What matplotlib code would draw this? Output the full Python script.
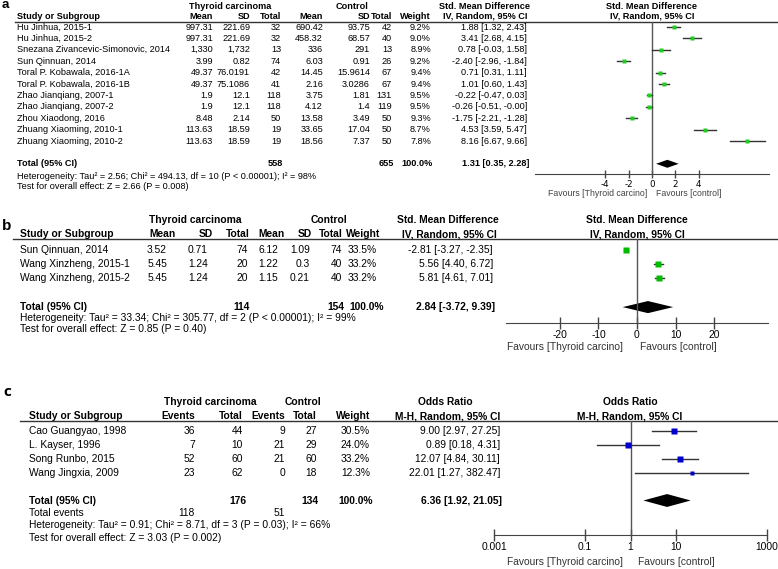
import numpy as np
import matplotlib.pyplot as plt
from matplotlib import font_manager

plt.rcParams['axes.unicode_minus'] = False

# ---- data: panel a (continuous, SMD) ----
names_a = ["Hu Jinhua, 2015-1", "Hu Jinhua, 2015-2", "Snezana Zivancevic-Simonovic, 2014",
           "Sun Qinnuan, 2014", "Toral P. Kobawala, 2016-1A", "Toral P. Kobawala, 2016-1B",
           "Zhao Jianqiang, 2007-1", "Zhao Jianqiang, 2007-2", "Zhou Xiaodong, 2016",
           "Zhuang Xiaoming, 2010-1", "Zhuang Xiaoming, 2010-2"]
exp_mean_a = ["997.31", "997.31", "1,330", "3.99", "49.37", "49.37", "1.9", "1.9", "8.48", "113.63", "113.63"]
exp_sd_a = ["221.69", "221.69", "1,732", "0.82", "76.0191", "75.1086", "12.1", "12.1", "2.14", "18.59", "18.59"]
exp_n_a = [32, 32, 13, 74, 42, 41, 118, 118, 50, 19, 19]
ctl_mean_a = ["690.42", "458.32", "336", "6.03", "14.45", "2.16", "3.75", "4.12", "13.58", "33.65", "18.56"]
ctl_sd_a = ["93.75", "68.57", "291", "0.91", "15.9614", "3.0286", "1.81", "1.4", "3.49", "17.04", "7.37"]
ctl_n_a = [42, 40, 13, 26, 67, 67, 131, 119, 50, 50, 50]
weight_a = [9.2, 9.0, 8.9, 9.2, 9.4, 9.4, 9.5, 9.5, 9.3, 8.7, 7.8]
est_a = [1.88, 3.41, 0.78, -2.40, 0.71, 1.01, -0.22, -0.26, -1.75, 4.53, 8.16]
lo_a = [1.32, 2.68, -0.03, -2.96, 0.31, 0.60, -0.47, -0.51, -2.21, 3.59, 6.67]
hi_a = [2.43, 4.15, 1.58, -1.84, 1.11, 1.43, 0.03, -0.0, -1.28, 5.47, 9.66]
total_a = [558, 655, 1.31, 0.35, 2.28]
het_a = "Heterogeneity: Tau² = 2.56; Chi² = 494.13, df = 10 (P < 0.00001); I² = 98%"
test_a = "Test for overall effect: Z = 2.66 (P = 0.008)"

# ---- data: panel b ----
names_b = ["Sun Qinnuan, 2014", "Wang Xinzheng, 2015-1", "Wang Xinzheng, 2015-2"]
exp_mean_b = ["3.52", "5.45", "5.45"]
exp_sd_b = ["0.71", "1.24", "1.24"]
exp_n_b = [74, 20, 20]
ctl_mean_b = ["6.12", "1.22", "1.15"]
ctl_sd_b = ["1.09", "0.3", "0.21"]
ctl_n_b = [74, 40, 40]
weight_b = [33.5, 33.2, 33.2]
est_b = [-2.81, 5.56, 5.81]
lo_b = [-3.27, 4.40, 4.61]
hi_b = [-2.35, 6.72, 7.01]
total_b = [114, 154, 2.84, -3.72, 9.39]
het_b = "Heterogeneity: Tau² = 33.34; Chi² = 305.77, df = 2 (P < 0.00001); I² = 99%"
test_b = "Test for overall effect: Z = 0.85 (P = 0.40)"

# ---- data: panel c (dichotomous, OR) ----
names_c = ["Cao Guangyao, 1998", "L. Kayser, 1996", "Song Runbo, 2015", "Wang Jingxia, 2009"]
exp_ev_c = [36, 7, 52, 23]
exp_n_c = [44, 10, 60, 62]
ctl_ev_c = [9, 21, 21, 0]
ctl_n_c = [27, 29, 60, 18]
weight_c = [30.5, 24.0, 33.2, 12.3]
est_c = [9.00, 0.89, 12.07, 22.01]
lo_c = [2.97, 0.18, 4.84, 1.27]
hi_c = [27.25, 4.31, 30.11, 382.47]
total_c = [176, 134, 6.36, 1.92, 21.05]
events_c = [118, 51]
het_c = "Heterogeneity: Tau² = 0.91; Chi² = 8.71, df = 3 (P = 0.03); I² = 66%"
test_c = "Test for overall effect: Z = 3.03 (P = 0.002)"

W, H = 778, 569
fig = plt.figure(figsize=(W / 100, H / 100), dpi=100)

installed = {f.name for f in font_manager.fontManager.ttflist}
if 'Liberation Sans Narrow' in installed:
    narrow, fs2 = 'Liberation Sans Narrow', 9.0
else:
    narrow, fs2 = 'Liberation Sans', 7.4
fs1 = 6.6

# canvas in pixel coordinates for all the table text
cv = fig.add_axes([0, 0, 1, 1])
cv.set_xlim(0, W)
cv.set_ylim(H, 0)
cv.axis('off')


def txt(x, y, s, ha='left', size=fs1, bold=False, fam='Liberation Sans', color='black'):
    cv.text(x, y, s, ha=ha, va='center', fontsize=size, family=fam,
            fontweight='bold' if bold else 'normal', color=color)


def ci(e, l, h):
    return f"{e:.2f} [{l:.2f}, {h:.2f}]"


def forest_axes(x0, x1, ytop, ybot, y0, dy, log=False):
    ax = fig.add_axes([x0 / W, 1 - ybot / H, (x1 - x0) / W, (ybot - ytop) / H])
    if log:
        ax.set_xscale('log')
    ax.set_ylim((ybot - y0) / dy, (ytop - y0) / dy)
    ax.patch.set_alpha(0)
    for s in ['top', 'right', 'left']:
        ax.spines[s].set_visible(False)
    ax.spines['bottom'].set_color('#444444')
    ax.tick_params(left=False, labelleft=False, direction='inout', length=7,
                   width=1, color='#444444', pad=1)
    ax.axvline(1 if log else 0, color='#555555', lw=1)
    return ax


def marker_px(w):
    return 1.1 * np.sqrt(w) * 0.72

# ================= panel a =================
ya0, dya = 27, 11.4
txt(2, 5, "a", size=9.5, bold=True)
txt(230, 6, "Thyroid carcinoma", ha='center', bold=True)
txt(352, 6, "Control", ha='center', bold=True)
txt(485, 6, "Std. Mean Difference", ha='center', bold=True)
txt(652, 6, "Std. Mean Difference", ha='center', bold=True)
txt(17, 16, "Study or Subgroup", bold=True)
cols_a = [213, 250, 281, 323, 370, 392, 431, 527]
for x, s in zip(cols_a, ["Mean", "SD", "Total", "Mean", "SD", "Total", "Weight"]):
    txt(x, 16, s, ha='right', bold=True)
txt(485, 16, "IV, Random, 95% CI", ha='center', bold=True)
txt(652, 16, "IV, Random, 95% CI", ha='center', bold=True)
cv.plot([15, W], [22, 22], color='#333333', lw=1)
for i in range(len(names_a)):
    y = ya0 + dya * i
    txt(17, y, names_a[i])
    row = [exp_mean_a[i], exp_sd_a[i], exp_n_a[i], ctl_mean_a[i], ctl_sd_a[i], ctl_n_a[i],
           f"{weight_a[i]:.1f}%", ci(est_a[i], lo_a[i], hi_a[i])]
    for x, s in zip(cols_a, row):
        txt(x, y, str(s), ha='right')
yt = ya0 + dya * 12
txt(17, yt, "Total (95% CI)", bold=True)
txt(283, yt, str(total_a[0]), ha='right', bold=True)
txt(394, yt, str(total_a[1]), ha='right', bold=True)
txt(433, yt, "100.0%", ha='right', bold=True)
txt(529, yt, ci(*total_a[2:]), ha='right', bold=True)
txt(17, 176, het_a)
txt(17, 186, test_a)

axa = forest_axes(535, 769, 22, 174, ya0, dya)
axa.set_xlim(-10, 10)
for i in range(len(est_a)):
    axa.plot([lo_a[i], hi_a[i]], [i, i], color='#333333', lw=1)
    axa.plot(est_a[i], i, 's', color='#22cc22', ms=marker_px(weight_a[i]), mec='none')
e, l, h = total_a[2:]
axa.fill([l, e, h, e], [12, 11.65, 12, 12.35], color='black', lw=0)
axa.set_xticks([-4, -2, 0, 2, 4])
axa.tick_params(labelsize=6.3, length=6)
txt(647, 193, "Favours [Thyroid carcino]", ha='right', size=6.3, color='#444444')
txt(656, 193, "Favours [control]", ha='left', size=6.3, color='#444444')

# ================= panel b =================
yb0, dyb = 249.5, 14.4
txt(2, 226, "b", size=11, bold=True)
txt(195, 220, "Thyroid carcinoma", ha='center', size=fs2, bold=True, fam=narrow)
txt(329, 220, "Control", ha='center', size=fs2, bold=True, fam=narrow)
txt(448, 220, "Std. Mean Difference", ha='center', size=fs2, bold=True, fam=narrow)
txt(637, 220, "Std. Mean Difference", ha='center', size=fs2, bold=True, fam=narrow)
txt(20, 234, "Study or Subgroup", size=fs2, bold=True, fam=narrow)
cols_b = [167, 208, 248, 278, 310, 342, 377, 493]
hdr_b = [176, 213, 250, 285, 312, 343, 380]
for x, s in zip(hdr_b, ["Mean", "SD", "Total", "Mean", "SD", "Total", "Weight"]):
    txt(x, 234, s, ha='right', size=fs2, bold=True, fam=narrow)
txt(449, 234, "IV, Random, 95% CI", ha='center', size=fs2, bold=True, fam=narrow)
txt(637, 234, "IV, Random, 95% CI", ha='center', size=fs2, bold=True, fam=narrow)
cv.plot([13, W], [239, 239], color='#333333', lw=1)
for i in range(len(names_b)):
    y = yb0 + dyb * i
    txt(20, y, names_b[i], size=fs2, fam=narrow)
    row = [exp_mean_b[i], exp_sd_b[i], exp_n_b[i], ctl_mean_b[i], ctl_sd_b[i], ctl_n_b[i],
           f"{weight_b[i]:.1f}%", ci(est_b[i], lo_b[i], hi_b[i])]
    for x, s in zip(cols_b, row):
        txt(x, y, str(s), ha='right', size=fs2, fam=narrow)
yt = yb0 + dyb * 4
txt(20, yt, "Total (95% CI)", size=fs2, bold=True, fam=narrow)
txt(250, yt, str(total_b[0]), ha='right', size=fs2, bold=True, fam=narrow)
txt(344, yt, str(total_b[1]), ha='right', size=fs2, bold=True, fam=narrow)
txt(384, yt, "100.0%", ha='right', size=fs2, bold=True, fam=narrow)
txt(495, yt, ci(*total_b[2:]), ha='right', size=fs2, bold=True, fam=narrow)
txt(20, 318, het_b, size=fs2, fam=narrow)
txt(20, 329, test_b, size=fs2, fam=narrow)

axb = forest_axes(506, 768, 239, 323, yb0, dyb)
axb.set_xlim(-34, 34)
for i in range(len(est_b)):
    axb.plot([lo_b[i], hi_b[i]], [i, i], color='#333333', lw=1)
    axb.plot(est_b[i], i, 's', color='#00bb00', ms=marker_px(weight_b[i]), mec='none')
e, l, h = total_b[2:]
axb.fill([l, e, h, e], [4, 3.58, 4, 4.42], color='black', lw=0)
axb.set_xticks([-20, -10, 0, 10, 20])
axb.tick_params(labelsize=fs2, length=8)
for t in axb.get_xticklabels():
    t.set_family(narrow)
txt(623, 347, "Favours [Thyroid carcino]", ha='right', size=fs2, fam=narrow, color='#333333')
txt(640, 347, "Favours [control]", ha='left', size=fs2, fam=narrow, color='#333333')

# ================= panel c =================
yc0, dyc = 430.5, 14.0
txt(3, 392, "c", size=11, bold=True, fam='Open Sans')
txt(210, 402, "Thyroid carcinoma", ha='center', size=fs2, bold=True, fam=narrow)
txt(303, 402, "Control", ha='center', size=fs2, bold=True, fam=narrow)
txt(445, 402, "Odds Ratio", ha='center', size=fs2, bold=True, fam=narrow)
txt(630, 402, "Odds Ratio", ha='center', size=fs2, bold=True, fam=narrow)
txt(29, 416, "Study or Subgroup", size=fs2, bold=True, fam=narrow)
cols_c = [195, 243, 285, 317, 370, 500]
for x, s in zip(cols_c, ["Events", "Total", "Events", "Total", "Weight"]):
    txt(x, 416, s, ha='right', size=fs2, bold=True, fam=narrow)
txt(500, 416, "M-H, Random, 95% CI", ha='right', size=fs2, bold=True, fam=narrow)
txt(630, 416, "M-H, Random, 95% CI", ha='center', size=fs2, bold=True, fam=narrow)
cv.plot([20, W], [421, 421], color='#333333', lw=1)
for i in range(len(names_c)):
    y = yc0 + dyc * i
    txt(29, y, names_c[i], size=fs2, fam=narrow)
    row = [exp_ev_c[i], exp_n_c[i], ctl_ev_c[i], ctl_n_c[i],
           f"{weight_c[i]:.1f}%", ci(est_c[i], lo_c[i], hi_c[i])]
    for x, s in zip(cols_c, row):
        txt(x, y, str(s), ha='right', size=fs2, fam=narrow)
yt = yc0 + dyc * 5
txt(29, yt, "Total (95% CI)", size=fs2, bold=True, fam=narrow)
txt(247, yt, str(total_c[0]), ha='right', size=fs2, bold=True, fam=narrow)
txt(319, yt, str(total_c[1]), ha='right', size=fs2, bold=True, fam=narrow)
txt(373, yt, "100.0%", ha='right', size=fs2, bold=True, fam=narrow)
txt(502, yt, ci(*total_c[2:]), ha='right', size=fs2, bold=True, fam=narrow)
txt(29, yt + 12.5, "Total events", size=fs2, fam=narrow)
txt(195, yt + 12.5, str(events_c[0]), ha='right', size=fs2, fam=narrow)
txt(285, yt + 12.5, str(events_c[1]), ha='right', size=fs2, fam=narrow)
txt(29, yt + 25, het_c, size=fs2, fam=narrow)
txt(29, yt + 37.5, test_c, size=fs2, fam=narrow)

axc = forest_axes(494, 767, 421, 535, yc0, dyc, log=True)
axc.set_xlim(0.001, 1000)
for i in range(len(est_c)):
    axc.plot([lo_c[i], hi_c[i]], [i, i], color='#333333', lw=1)
    axc.plot(est_c[i], i, 's', color='#0000cc', ms=marker_px(weight_c[i]), mec='none')
e, l, h = total_c[2:]
axc.fill([l, e, h, e], [5, 4.54, 5, 5.46], color='black', lw=0)
axc.set_xticks([0.001, 0.1, 1, 10, 1000])
axc.set_xticklabels(["0.001", "0.1", "1", "10", "1000"], family=narrow)
axc.minorticks_off()
axc.tick_params(labelsize=fs2, length=8)
txt(623, 562, "Favours [Thyroid carcino]", ha='right', size=fs2, fam=narrow, color='#333333')
txt(638, 562, "Favours [control]", ha='left', size=fs2, fam=narrow, color='#333333')

fig.savefig('out.png', dpi=100)
